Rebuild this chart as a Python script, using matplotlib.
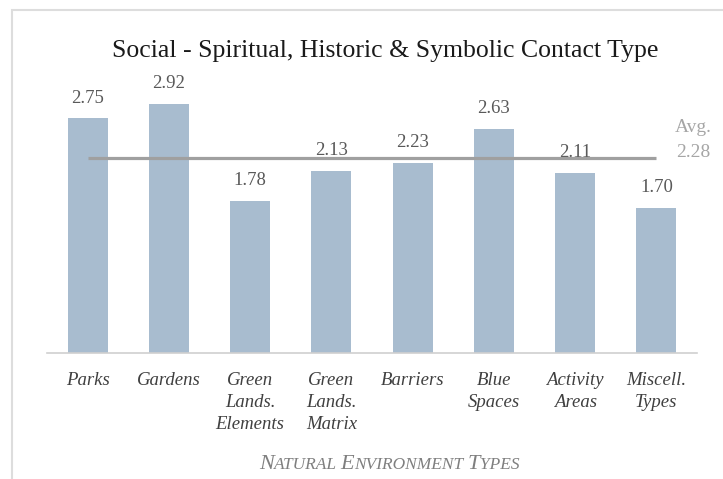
import matplotlib.pyplot as plt
from matplotlib.patches import Rectangle

categories = ['Parks', 'Gardens', 'Green\nLands.\nElements', 'Green\nLands.\nMatrix',
              'Barriers', 'Blue\nSpaces', 'Activity\nAreas', 'Miscell.\nTypes']
values = [2.75, 2.92, 1.78, 2.13, 2.23, 2.63, 2.11, 1.70]
avg_value = 2.28
title = 'Social - Spiritual, Historic & Symbolic Contact Type'

W, H = 723, 479
plt.rcParams['font.family'] = ['Liberation Serif', 'DejaVu Serif']

fig = plt.figure(figsize=(W / 100, H / 100), dpi=100)
fig.patch.set_facecolor('white')

# light frame around the chart area
fig.add_artist(Rectangle((12 / W, -0.05), 1.1, 1 - 10 / H + 0.05, transform=fig.transFigure,
                         facecolor='none', edgecolor='#DDDDDD', linewidth=1.5, zorder=0))

# axes: x 47..697 px, baseline at y 352.5, 85.1 px per unit
ax_l, ax_r = 47, 697
ax_b = 352.5
px_per_unit = 85.1
ymax = 3.5
ax = fig.add_axes([ax_l / W, (H - ax_b) / H, (ax_r - ax_l) / W, ymax * px_per_unit / H])
ax.set_xlim(-0.5, len(categories) - 0.5)
ax.set_ylim(0, ymax)

x = list(range(len(categories)))
ax.bar(x, values, width=0.49, color='#A8BCCF', zorder=2)
for xi, v in zip(x, values):
    ax.text(xi, v + 0.14, f'{v:.2f}', ha='center', va='bottom', fontsize=13.5, color='#595959')

ax.plot([x[0], x[-1]], [avg_value, avg_value], color='#A0A0A0', linewidth=2.3,
        solid_capstyle='butt', zorder=3)
ax.text(x[-1] + 0.45, avg_value - 0.03, f'Avg.\n{avg_value:.2f}', ha='center', va='bottom',
        fontsize=14, color='#A6A6A6', linespacing=1.6)

for s in ['top', 'right', 'left']:
    ax.spines[s].set_visible(False)
ax.spines['bottom'].set_color('#D0D0D0')
ax.spines['bottom'].set_linewidth(1.2)
ax.set_yticks([])
ax.set_xticks(x)
ax.set_xticklabels(categories, fontsize=13.5, style='italic', color='#404040', linespacing=1.4)
ax.tick_params(axis='x', length=0, pad=14)

fig.text(385 / W, 1 - 51 / H, title, ha='center', va='center', fontsize=18.5, color='#1A1A1A')

# small-caps axis title built from chained text pieces
pieces = [('N', 16), ('ATURAL ', 12.5), ('E', 16), ('NVIRONMENT ', 12.5), ('T', 16), ('YPES', 12.5)]
kw = dict(style='italic', color='#7F7F7F', va='baseline')
chain = [fig.text(0, 0, txt, fontsize=size, ha='left', **kw) for txt, size in pieces]

fig.canvas.draw()
r = fig.canvas.get_renderer()
widths = [t.get_window_extent(r).width for t in chain]
total = sum(widths)
xpos = 389 - total / 2
for t, w in zip(chain, widths):
    t.set_position((xpos / W, 1 - 469 / H))
    xpos += w

fig.savefig('out.png', dpi=100, facecolor='white')
